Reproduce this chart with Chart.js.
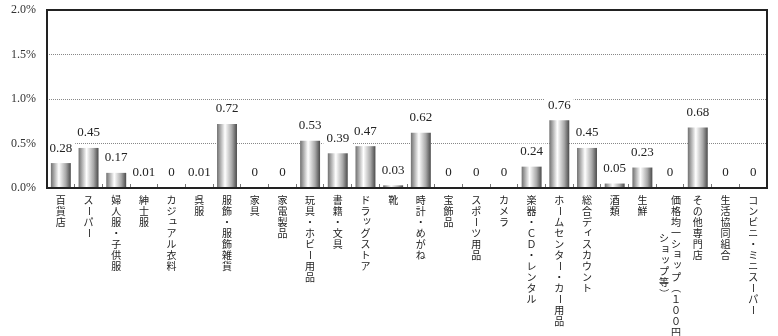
<!DOCTYPE html>
<html>
<head>
<meta charset="utf-8">
<script src="https://cdn.jsdelivr.net/npm/chart.js@4"></script>
<style>
  html, body { margin: 0; padding: 0; background: #fff; }
  #wrap { width: 778px; height: 336px; }
</style>
</head>
<body>
<div id="wrap"><canvas id="bar_chart"></canvas></div>
<script>
const categories = [
  "百貨店", "スーパー", "婦人服・子供服", "紳士服", "カジュアル衣料", "呉服",
  "服飾・服飾雑貨", "家具", "家電製品", "玩具・ホビー用品", "書籍・文具",
  "ドラッグストア", "靴", "時計・めがね", "宝飾品", "スポーツ用品", "カメラ",
  "楽器・ＣＤ・レンタル", "ホームセンター・カー用品", "総合ディスカウント",
  "酒類", "生鮮", "価格均一ショップ（１００円ショップ等）", "その他専門店",
  "生活協同組合", "コンビニ・ミニスーパー",
];
const values = [
  0.28, 0.45, 0.17, 0.01, 0, 0.01, 0.72, 0, 0, 0.53, 0.39, 0.47, 0.03,
  0.62, 0, 0, 0, 0.24, 0.76, 0.45, 0.05, 0.23, 0, 0.68, 0, 0,
];
const yTicks = [0, 0.5, 1.0, 1.5, 2.0];

const BAR_PCT = 0.72;
const COL_MAX = 13; // chars per vertical column

// gray cylinder look
function barFill(c) {
  const chart = c.chart;
  const xs = chart.scales.x;
  if (!chart.chartArea || !xs) return "#aaa";
  const cx = xs.getPixelForValue(c.dataIndex);
  const half = (xs.width / categories.length) * BAR_PCT / 2;
  const g = chart.ctx.createLinearGradient(cx - half, 0, cx + half, 0);
  g.addColorStop(0, "#707070");
  g.addColorStop(0.4, "#ffffff");
  g.addColorStop(0.75, "#a8a8a8");
  g.addColorStop(1, "#4a4a4a");
  return g;
}

// value labels with white box, drawn before bars so bars stay on top
const valueLabels = {
  id: "valueLabels",
  beforeDatasetsDraw(chart) {
    const ctx = chart.ctx;
    const meta = chart.getDatasetMeta(0);
    ctx.save();
    ctx.font = '13px "Liberation Serif"';
    ctx.textAlign = "center";
    ctx.textBaseline = "middle";
    meta.data.forEach((bar, i) => {
      const txt = String(values[i]);
      const y = bar.y - 15;
      const w = ctx.measureText(txt).width + 6;
      ctx.fillStyle = "#fff";
      ctx.fillRect(bar.x - w / 2, y - 8, w, 16);
      ctx.fillStyle = "#222";
      ctx.fillText(txt, bar.x, y);
    });
    ctx.restore();
  },
};

// vertical japanese category labels
const ROTATE = "ー（）";
const SMALL = "ッョャュィァォェ";
const verticalLabels = {
  id: "verticalLabels",
  afterDraw(chart) {
    const ctx = chart.ctx;
    const xs = chart.scales.x;
    const top = chart.chartArea.bottom + 12;
    const pitch = 11;
    ctx.save();
    ctx.font = '10px "Noto Sans CJK JP"';
    ctx.fillStyle = "#222";
    ctx.textAlign = "center";
    ctx.textBaseline = "middle";
    categories.forEach((label, i) => {
      const chars = Array.from(label);
      const cols = [];
      for (let k = 0; k < chars.length; k += COL_MAX) cols.push(chars.slice(k, k + COL_MAX));
      const longest = Math.max(...cols.map((c) => c.length));
      const cx = xs.getPixelForValue(i);
      cols.forEach((col, ci) => {
        const x = cx + ((cols.length - 1) / 2 - ci) * 12;
        const y0 = top + (longest - col.length) / 2 * pitch;
        col.forEach((ch, r) => {
          const y = y0 + r * pitch;
          if (ROTATE.includes(ch)) {
            ctx.save();
            ctx.translate(x, y);
            ctx.rotate(Math.PI / 2);
            ctx.fillText(ch, 0, 0);
            ctx.restore();
          } else if (SMALL.includes(ch)) {
            ctx.fillText(ch, x + 1.5, y - 1.5);
          } else {
            ctx.fillText(ch, x, y);
          }
        });
      });
    });
    // plot frame
    const a = chart.chartArea;
    ctx.strokeStyle = "#222";
    ctx.lineWidth = 2;
    ctx.strokeRect(a.left, a.top, a.right - a.left, a.bottom - a.top);
    ctx.restore();
  },
};

const ctx = document.getElementById("bar_chart");

const bar_chart = new Chart(ctx, {
  type: "bar",
  data: {
    labels: categories,
    datasets: [
      {
        data: values,
        backgroundColor: barFill,
        borderWidth: 0,
        barPercentage: BAR_PCT,
        categoryPercentage: 1,
      },
    ],
  },
  options: {
    responsive: true,
    maintainAspectRatio: false,
    animation: false,
    layout: { padding: { top: 10, right: 11, left: 0, bottom: 0 } },
    plugins: {
      legend: { display: false },
      tooltip: { enabled: false },
    },
    scales: {
      x: {
        offset: true,
        ticks: { display: false },
        // small inward tick marks between categories
        grid: { drawOnChartArea: false, offset: true, tickLength: -4, color: "#777" },
        border: { display: false },
        afterFit: (s) => { s.height = 148; },
      },
      y: {
        min: 0,
        max: 2,
        afterBuildTicks: (s) => { s.ticks = yTicks.map((v) => ({ value: v })); },
        ticks: {
          padding: 11,
          color: "#333",
          font: { family: "Liberation Serif", size: 12 },
          callback: (v) => Number(v).toFixed(1) + "%",
        },
        grid: { color: "#888", drawTicks: false, lineWidth: 1 },
        border: { display: false, dash: [1, 1] },
        afterFit: (s) => {
          s.width = 47;
          s.paddingTop = 0;
          s.paddingBottom = 0;
        },
      },
    },
  },
  plugins: [valueLabels, verticalLabels],
});
</script>
</body>
</html>
